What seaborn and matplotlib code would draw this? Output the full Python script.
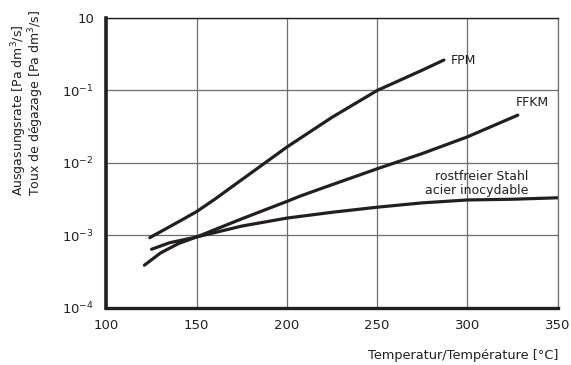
import numpy as np
import pandas as pd
import matplotlib
matplotlib.use("Agg")
import matplotlib.pyplot as plt
import seaborn as sns

# --- data (y values are outgassing rates) ---
fpm_t = [124, 140, 150, 160, 170, 180, 190, 200, 225, 250, 275, 287]
fpm_v = [10**-3.03, 10**-2.81, 10**-2.67, 10**-2.50, 10**-2.32, 10**-2.14, 10**-1.96,
         10**-1.78, 10**-1.37, 10**-1.0, 10**-0.72, 10**-0.58]

ffkm_t = [125, 135, 150, 175, 200, 207, 217, 250, 275, 300, 328]
ffkm_v = [10**-3.19, 10**-3.10, 10**-3.02, 10**-2.77, 10**-2.53, 10**-2.46, 10**-2.37,
          10**-2.08, 10**-1.87, 10**-1.64, 10**-1.34]

steel_t = [121, 130, 140, 150, 175, 200, 225, 250, 275, 300, 325, 350]
steel_v = [10**-3.41, 10**-3.24, 10**-3.11, 10**-3.02, 10**-2.87, 10**-2.76, 10**-2.68,
           10**-2.61, 10**-2.55, 10**-2.51, 10**-2.50, 10**-2.48]

x_ticks = [100, 150, 200, 250, 300, 350]
y_ticks = [1, 1e-1, 1e-2, 1e-3, 1e-4]
y_tick_labels = ["10", "$10^{-1}$", "$10^{-2}$", "$10^{-3}$", "$10^{-4}$"]

df = pd.concat([
    pd.DataFrame({"T": fpm_t, "rate": fpm_v, "mat": "FPM"}),
    pd.DataFrame({"T": ffkm_t, "rate": ffkm_v, "mat": "FFKM"}),
    pd.DataFrame({"T": steel_t, "rate": steel_v, "mat": "steel"}),
])

sns.set_theme(style="white")
plt.rcParams["font.family"] = ["DejaVu Sans"]

fig = plt.figure(figsize=(5.71, 3.65), dpi=100)
ax = fig.add_axes([0.1865, 0.1562, 0.9764 - 0.1865, 0.9507 - 0.1562])

sns.lineplot(data=df, x="T", y="rate", units="mat", estimator=None,
             color="#231f20", linewidth=2.3, ax=ax, sort=False, legend=False)

ax.set_yscale("log")
ax.set_xlim(100, 350)
ax.set_ylim(1e-4, 1)
ax.set_xticks(x_ticks)
ax.set_xticklabels([str(v) for v in x_ticks])
ax.set_yticks(y_ticks)
ax.set_yticklabels(y_tick_labels)
ax.yaxis.set_minor_locator(matplotlib.ticker.NullLocator())
ax.tick_params(axis="both", length=0, labelsize=9.5, colors="#231f20")
ax.tick_params(axis="y", pad=9)
ax.tick_params(axis="x", pad=8)
ax.grid(True, which="major", color="#6d6e71", linewidth=0.9)
ax.set_axisbelow(True)

for side, lw, col in [("left", 2.6, "#231f20"), ("bottom", 2.4, "#231f20"),
                      ("top", 1.0, "#231f20"), ("right", 0.9, "#6d6e71")]:
    ax.spines[side].set_visible(True)
    ax.spines[side].set_linewidth(lw)
    ax.spines[side].set_color(col)

ax.set_xlabel("")
ax.set_ylabel("")

ax.text(291, 10**-0.59, "FPM", fontsize=9, color="#231f20", va="center", ha="left")
ax.text(327, 10**-1.17, "FFKM", fontsize=9, color="#231f20", va="center", ha="left")
ax.text(333.6, 10**-2.28, "rostfreier Stahl\nacier inocydable", fontsize=9,
        color="#231f20", va="center", ha="right", multialignment="right",
        linespacing=1.05)

fig.text(559 / 571, 1 - 355 / 365, "Temperatur/Température [°C]", fontsize=9.3,
         color="#231f20", ha="right", va="center")
fig.text(27.5 / 571, 1 - 196 / 365,
         "Ausgasungsrate [Pa dm$^3$/s]\nToux de dégazage [Pa dm$^3$/s]",
         rotation=90, fontsize=9, color="#231f20", ha="center", va="bottom",
         multialignment="left", linespacing=0.82)

fig.savefig("out.png", dpi=100, facecolor="white")
